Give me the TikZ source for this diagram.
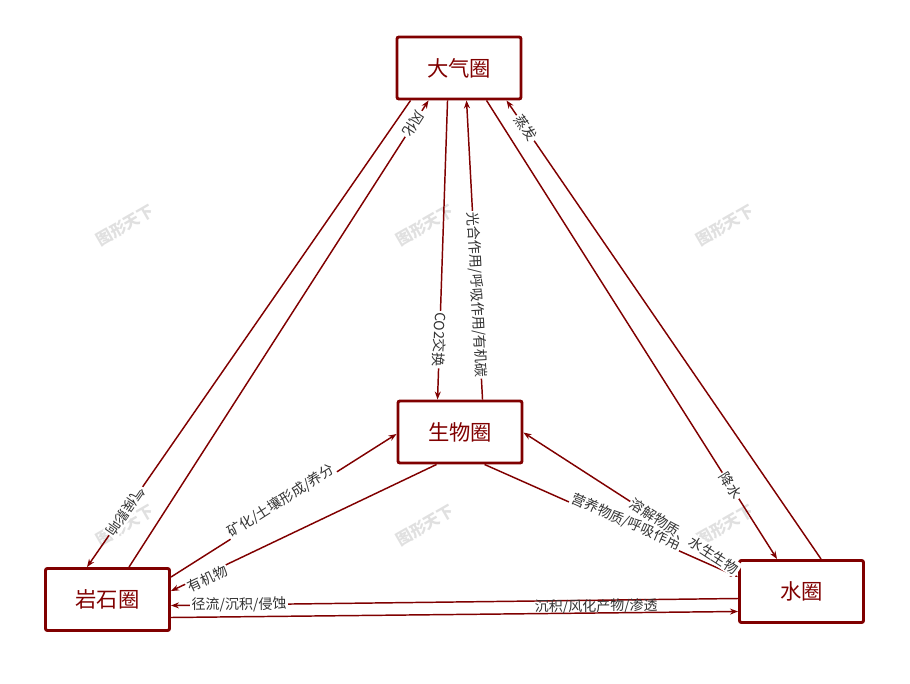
\documentclass[tikz,border=0pt]{standalone}
\usepackage{fontspec}
\setmainfont{Noto Sans CJK SC}
\usetikzlibrary{calc,arrows.meta}
\definecolor{dr}{HTML}{800000}
\begin{document}
\begin{tikzpicture}[x=0.75pt,y=-0.75pt,
 box/.style={draw=dr,line width=2.2pt,rounded corners=1.5pt,minimum width=124*0.75pt,minimum height=62*0.75pt,text=dr,font=\fontsize{16}{18}\selectfont,inner sep=0},
 ln/.style={draw=dr,line width=1.1pt,-{Stealth[length=6pt,width=4.5pt]}},
 lb/.style={fill=white,inner sep=1pt,font=\fontsize{10.5}{11}\selectfont,text=black!80,sloped},
 up/.style={allow upside down},
 wm/.style={text=black!12,font=\fontsize{12}{13}\selectfont\bfseries,rotate=30}]
\useasboundingbox (0,0) rectangle (910,684);
\foreach \p in {(125,225),(425,225),(725,225),(125,525),(425,525),(725,525)} \node[wm] at \p {图形天下};
\node[box] (A) at (459,68) {大气圈};
\node[box] (B) at (460,432) {生物圈};
\node[box] (R) at (107.5,599.5) {岩石圈};
\node[box] (W) at (801.5,591.5) {水圈};
% atmosphere - rock
\draw[ln] ($(A.south west)+(15,0)$) -- node[lb,up,pos=0.88]{气候影响} ($(R.north west)+(43,0)$);
\draw[ln] ($(R.north west)+(85,0)$) -- node[lb,up,rotate=180,pos=0.95]{风化} ($(A.south west)+(33,0)$);
% atmosphere - bio
\draw[ln] ($(A.south west)+(52,0)$) -- node[lb,up,pos=0.8]{CO2交换} ($(B.north west)+(41,0)$);
\draw[ln] ($(B.north west)+(86,0)$) -- node[lb,up,pos=0.35,rotate=180]{光合作用/呼吸作用/有机碳} ($(A.south west)+(71,0)$);
% atmosphere - water
\draw[ln] ($(A.south west)+(91,0)$) -- node[lb,pos=0.84]{降水} ($(W.north west)+(39,0)$);
\draw[ln] ($(W.north west)+(83,0)$) -- node[lb,pos=0.94]{蒸发} ($(A.south west)+(111,0)$);
% rock - bio
\draw[ln] ($(R.north east)+(0,10)$) -- node[lb,pos=0.5,above=-3pt]{矿化/土壤形成/养分} ($(B.west)+(0,2)$);
\draw[ln] ($(B.south west)+(40,0)$) -- node[lb,pos=0.87,below=-3pt]{有机物} ($(R.north east)+(0,24)$);
% bio - water
\draw[ln] ($(B.south west)+(88,0)$) -- node[lb,pos=0.55,above=-3pt]{营养物质/呼吸作用} ($(W.north west)+(0,18)$);
\draw[ln] ($(W.north west)+(0,12)$) -- node[lb,pos=0.25]{溶解物质、水生生物} ($(B.north east)+(0,33)$);
% rock - water
\draw[ln] ($(W.west)+(0,7)$) -- node[lb,pos=0.88]{径流/沉积/侵蚀} ($(R.east)+(0,6)$);
\draw[ln] ($(R.east)+(0,18)$) -- node[lb,pos=0.75,above=-2pt,fill=none]{沉积/风化产物/渗透} ($(W.west)+(0,20)$);
\end{tikzpicture}
\end{document}
